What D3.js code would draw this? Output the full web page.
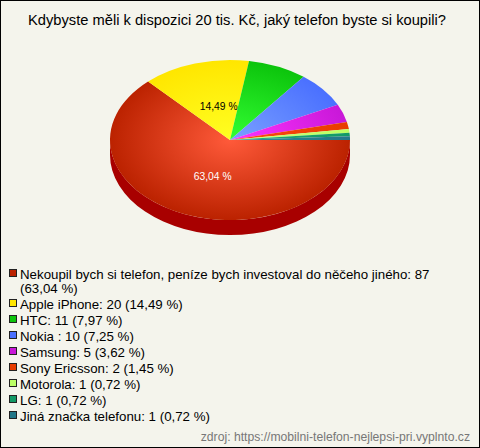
<!DOCTYPE html>
<html lang="en">
<head>
<meta charset="utf-8">
<title>Telefon</title>
<script src="https://d3js.org/d3.v7.min.js"></script>
<style>
  html, body { margin: 0; padding: 0; background: #f4f4ec; }
  svg { display: block; }
  text { font-family: "Liberation Sans", Arial, sans-serif; }
</style>
</head>
<body>
<svg width="480" height="448"></svg>
<script>
const title = "Kdybyste měli k dispozici 20 tis. Kč, jaký telefon byste si koupili?";
const source = "zdroj: https://mobilni-telefon-nejlepsi-pri.vyplnto.cz";
const categories = ["Nekoupil bych si telefon, peníze bych investoval do něčeho jiného", "Apple iPhone", "HTC", "Nokia ", "Samsung", "Sony Ericsson", "Motorola", "LG", "Jiná značka telefonu"];
const values = [87, 20, 11, 10, 5, 2, 1, 1, 1];
const edgeColors = ["#bb2200", "#ffe600", "#0cc40c", "#4a70ff", "#c818d8", "#e83c00", "#bbff66", "#119966", "#227788"];
const centerColors = ["#ff5a3a", "#ffff22", "#33ff33", "#7aa0ff", "#ff33ff", "#ff4a10", "#ccff77", "#22aa77", "#338899"];
const sideColors = ["#a80000", "#a80000", "#a80000", "#a80000", "#a80000", "#a80000", "#a80000", "#0a7a50", "#a80000"];

const svg = d3.select("svg");
const w = 480, h = 448;
const cx = 230, cy = 140, rx = 120, ry = 80, depth = 15;
const squash = ry / rx;
const total = d3.sum(values);
const fmt = v => (v / total * 100).toFixed(2).replace(".", ",") + " %";

svg.append("rect").attr("x", 0.5).attr("y", 0.5).attr("width", w - 1).attr("height", h - 1)
  .attr("fill", "#f4f4ec").attr("stroke", "#000");

svg.append("text").attr("x", 237).attr("y", 25).attr("text-anchor", "middle")
  .attr("font-size", 14.7).attr("fill", "#000").text(title);

// gradients, one per slice
const defs = svg.append("defs");
const grads = defs.selectAll("radialGradient").data(values).enter().append("radialGradient")
  .attr("id", (d, i) => "g" + i)
  .attr("gradientUnits", "userSpaceOnUse")
  .attr("cx", 0).attr("cy", 0).attr("r", rx);
grads.append("stop").attr("offset", "0%").attr("stop-color", (d, i) => centerColors[i]);
grads.append("stop").attr("offset", "100%").attr("stop-color", (d, i) => edgeColors[i]);

// starts at east, clockwise
const pie = d3.pie().sort(null).startAngle(Math.PI / 2).endAngle(Math.PI * 2.5);
const arcs = pie(values);
const arc = d3.arc().innerRadius(0).outerRadius(rx);
const labelArc = d3.arc().innerRadius(56).outerRadius(56);

const g = svg.append("g").attr("transform", `translate(${cx},${cy}) scale(1,${squash})`);

// side wall, only the front half shows
const d3depth = depth / squash;
g.selectAll("path.side").data(arcs).enter().append("path")
  .attr("class", "side")
  .attr("fill", (d, i) => sideColors[i])
  .attr("d", d => {
    const a0 = Math.max(d.startAngle, Math.PI / 2) - Math.PI / 2;
    const a1 = Math.min(d.endAngle, Math.PI * 1.5) - Math.PI / 2;
    if (a1 <= a0) return null;
    const p = d3.path();
    p.arc(0, 0, rx, a0, a1);
    p.lineTo(rx * Math.cos(a1), rx * Math.sin(a1) + d3depth);
    p.arc(0, d3depth, rx, a1, a0, true);
    p.closePath();
    return p.toString();
  });

g.selectAll("path.top").data(arcs).enter().append("path")
  .attr("class", "top")
  .attr("fill", (d, i) => `url(#g${i})`)
  .attr("d", arc);

// labels for the big slices only
svg.selectAll("text.lab").data(arcs.filter(d => d.value / total > 0.1)).enter().append("text")
  .attr("class", "lab")
  .attr("x", d => cx + labelArc.centroid(d)[0] + 5)
  .attr("y", d => cy + labelArc.centroid(d)[1] * squash + 5.5)
  .attr("text-anchor", "middle").attr("font-size", 10.3)
  .attr("fill", d => d.index === 0 ? "#fff" : "#000")
  .text(d => fmt(d.value));

// legend
let y = 279;
values.forEach((v, i) => {
  svg.append("rect").attr("x", 9.5).attr("y", y - 9.5).attr("width", 7).attr("height", 7)
    .attr("fill", edgeColors[i]).attr("stroke", "#222");
  const t = svg.append("text").attr("x", 20).attr("y", y).attr("font-size", 13.3).attr("fill", "#000");
  const words = `${categories[i]}: ${v} (${fmt(v)})`.split(" ");
  let line = [], tspan = t.append("tspan").attr("x", 20);
  words.forEach(word => {
    line.push(word);
    tspan.text(line.join(" "));
    if (tspan.node().getComputedTextLength() > 440) {
      line.pop();
      tspan.text(line.join(" "));
      line = [word];
      tspan = t.append("tspan").attr("x", 20).attr("dy", 14).text(word);
      y += 14;
    }
  });
  y += 16;
});

svg.append("text").attr("x", 470).attr("y", 441).attr("text-anchor", "end")
  .attr("font-size", 12.18).attr("fill", "#777").text(source);
</script>
</body>
</html>
